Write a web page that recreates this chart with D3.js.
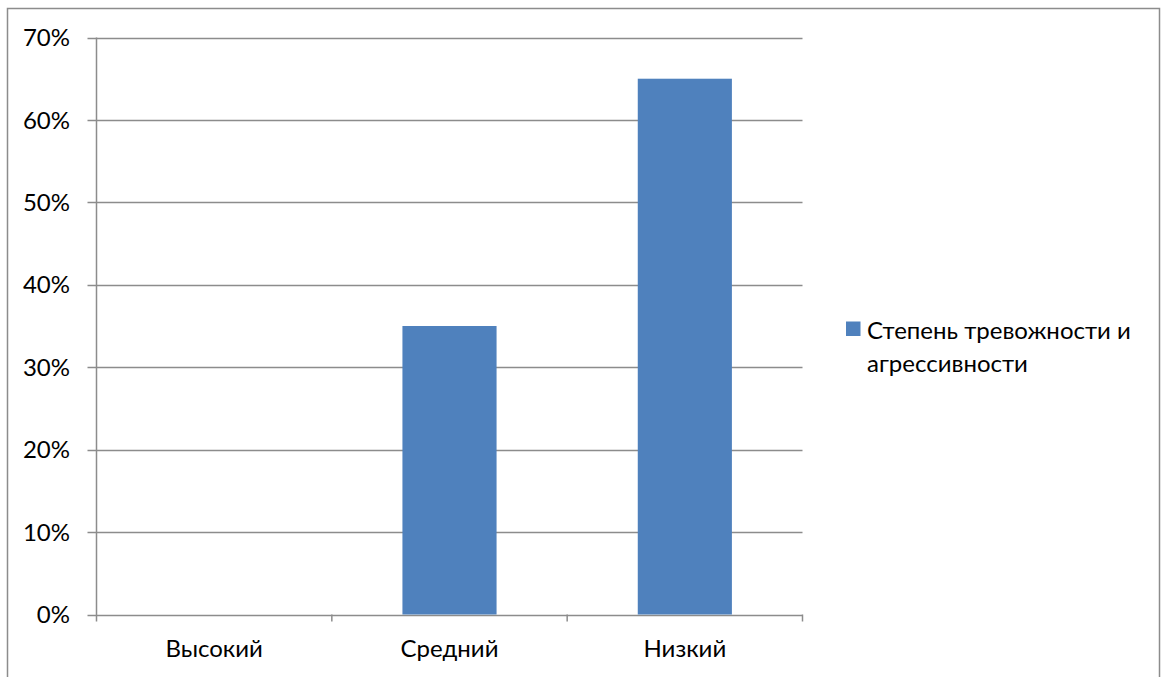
<!DOCTYPE html>
<html>
<head>
<meta charset="utf-8">
<script src="https://cdn.jsdelivr.net/npm/d3@7"></script>
<style>
  html, body { margin: 0; padding: 0; background: #fff; }
  svg { display: block; }
  text { font-family: Lato, "Open Sans", sans-serif; fill: #000; }
</style>
</head>
<body>
<svg id="chart" width="1166" height="677"></svg>
<script>
// Level categories and share of children in each
const categories = ["Высокий", "Средний", "Низкий"];
const values = [0, 0.35, 0.65];
const seriesName = "Степень тревожности и агрессивности";
const legendLines = ["Степень тревожности и", "агрессивности"];
const yTicks = [0, 0.1, 0.2, 0.3, 0.4, 0.5, 0.6, 0.7];

const svg = d3.select("#chart");
const plot = { left: 96.5, right: 802.5, top: 37.5, bottom: 614.5 };
const gridColor = "#8c8c8c";
const barColor = "#4f81bd";
const fontSize = 24;

// outer chart frame
svg.append("rect")
  .attr("x", 7.5).attr("y", 8.5)
  .attr("width", 1152).attr("height", 700)
  .attr("fill", "#fff")
  .attr("stroke", "#8c8c8c")
  .attr("stroke-width", 1.5);

const x = d3.scaleBand()
  .domain(categories)
  .range([plot.left, plot.right])
  .paddingInner(0.6)
  .paddingOuter(0.3);

const xOuter = d3.scaleBand()
  .domain(categories)
  .range([plot.left, plot.right]);

const y = d3.scaleLinear()
  .domain([0, 0.7])
  .range([plot.bottom, plot.top]);

// horizontal gridlines
svg.append("g")
  .selectAll("line")
  .data(yTicks)
  .join("line")
  .attr("x1", plot.left - 9).attr("x2", plot.right)
  .attr("y1", d => Math.round(y(d)) + 0.5)
  .attr("y2", d => Math.round(y(d)) + 0.5)
  .attr("stroke", gridColor)
  .attr("stroke-width", 1.5);

// y-axis labels
svg.append("g")
  .selectAll("text")
  .data(yTicks)
  .join("text")
  .attr("x", 70)
  .attr("y", d => y(d))
  .attr("dy", "0.36em")
  .attr("text-anchor", "end")
  .style("font-size", fontSize + "px")
  .text(d3.format(".0%"));

// bars
svg.append("g")
  .selectAll("rect")
  .data(values)
  .join("rect")
  .attr("x", (d, i) => x(categories[i]))
  .attr("width", x.bandwidth())
  .attr("y", d => y(d))
  .attr("height", d => y(0) - y(d))
  .attr("fill", barColor);

// vertical axis line
svg.append("line")
  .attr("x1", plot.left).attr("x2", plot.left)
  .attr("y1", plot.top).attr("y2", plot.bottom + 7)
  .attr("stroke", gridColor).attr("stroke-width", 1.5);

// category boundary ticks
const boundaries = categories.map(c => xOuter(c) + xOuter.bandwidth());
svg.append("g")
  .selectAll("line")
  .data(boundaries)
  .join("line")
  .attr("x1", d => d).attr("x2", d => d)
  .attr("y1", plot.bottom).attr("y2", plot.bottom + 7)
  .attr("stroke", gridColor).attr("stroke-width", 1.5);

// category labels
svg.append("g")
  .selectAll("text")
  .data(categories)
  .join("text")
  .attr("x", d => xOuter(d) + xOuter.bandwidth() / 2)
  .attr("y", 648)
  .attr("dy", "0.36em")
  .attr("text-anchor", "middle")
  .style("font-size", fontSize + "px")
  .text(d => d);

// legend
const legend = svg.append("g").attr("aria-label", seriesName);
legend.append("rect")
  .attr("x", 846).attr("y", 321.5)
  .attr("width", 14.5).attr("height", 14.5)
  .attr("fill", barColor);
legend.selectAll("text")
  .data(legendLines)
  .join("text")
  .attr("x", 867)
  .attr("y", (d, i) => 330 + i * 33)
  .attr("dy", "0.36em")
  .style("font-size", fontSize + "px")
  .text(d => d);
</script>
</body>
</html>
